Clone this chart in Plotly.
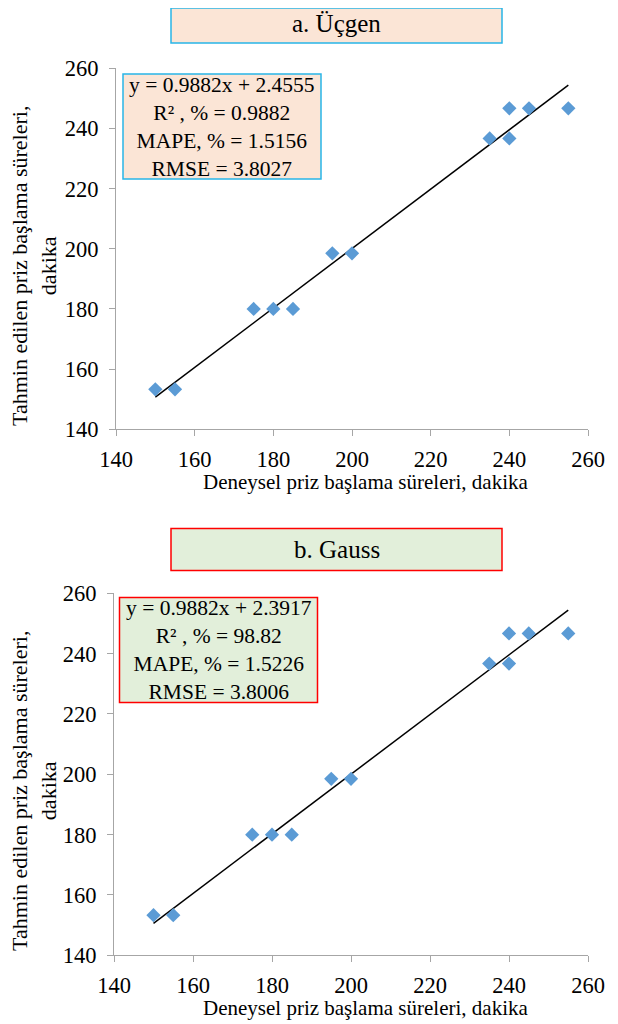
import plotly.graph_objects as go

# page is 618x1024; the html body adds an 8px margin, so the figure is 610x1016
OFF = 8
W, H = 618 - OFF, 1024 - OFF

# data
exp_x = [150, 155, 175, 180, 185, 195, 200, 235, 240, 240, 245, 255]
pred_a = [153.3, 153.3, 180, 180, 180, 198.5, 198.5, 236.7, 236.7, 246.7, 246.7, 246.7]
pred_b = [153.3, 153.3, 180, 180, 180, 198.5, 198.5, 236.7, 236.7, 246.7, 246.7, 246.7]
trend_x = [150, 255]
trend_a = [150.7, 254.4]
trend_b = [150.6, 254.4]
tick_vals = [140, 160, 180, 200, 220, 240, 260]
titles = ["a. Üçgen", "b. Gauss"]
stats_a = ["y = 0.9882x + 2.4555", "R² , % = 0.9882", "MAPE, % = 1.5156", "RMSE = 3.8027"]
stats_b = ["y = 0.9882x + 2.3917", "R² , % = 98.82", "MAPE, % = 1.5226", "RMSE = 3.8006"]
x_title = "Deneysel priz başlama süreleri, dakika"
y_title = "Tahmin edilen priz başlama süreleri,<br>dakika"

FONT = "Liberation Serif"
MARK = "#5b9bd5"
AXC = "#a6a6a6"


def px(x):
    return (x - OFF) / W


def py(y):
    return 1 - (max(y, OFF) - OFF) / H


fig = go.Figure()

panels = [
    dict(pred=pred_a, trend=trend_a, xd=[116, 588], yd=[68.3, 429.3], ax="", title=titles[0],
         tbox=(171, 1.5, 502, 43), tfill="#fbe5d6", tline="#29b5e8",
         sbox=(123, 74, 321, 179), stats=stats_a, ty=24, yt=266),
    dict(pred=pred_b, trend=trend_b, xd=[114, 588], yd=[593.3, 955.3], ax="2", title=titles[1],
         tbox=(171, 528.5, 502, 570.5), tfill="#e2efda", tline="#ff0000",
         sbox=(119.5, 597.5, 317.5, 702.5), stats=stats_b, ty=549.5, yt=791),
]

shapes = []
annotations = []
for p in panels:
    ax = p["ax"]
    fig.add_trace(go.Scatter(x=trend_x, y=p["trend"], mode="lines",
                             line=dict(color="black", width=1.5),
                             xaxis="x" + ax, yaxis="y" + ax, showlegend=False))
    fig.add_trace(go.Scatter(x=exp_x, y=p["pred"], mode="markers",
                             marker=dict(symbol="diamond", size=11, color=MARK),
                             xaxis="x" + ax, yaxis="y" + ax, showlegend=False))
    axis_common = dict(range=[140, 260], tickvals=tick_vals, showgrid=False, zeroline=False,
                       showline=True, linecolor=AXC, linewidth=1, ticks="outside",
                       ticklen=6, tickcolor=AXC, automargin=False,
                       tickfont=dict(family=FONT, size=22.5, color="black"))
    fig.update_layout(**{
        "xaxis" + ax: dict(domain=[px(p["xd"][0]), px(p["xd"][1])], anchor="y" + ax,
                           ticklabelstandoff=4, **axis_common),
        "yaxis" + ax: dict(domain=[py(p["yd"][1]), py(p["yd"][0])], anchor="x" + ax,
                           ticklabelstandoff=6, **axis_common),
    })
    x0, y0, x1, y1 = p["tbox"]
    shapes.append(dict(type="rect", xref="paper", yref="paper", x0=px(x0), x1=px(x1),
                       y0=py(y1), y1=py(y0), fillcolor=p["tfill"],
                       line=dict(color=p["tline"], width=1.5), layer="below"))
    annotations.append(dict(xref="paper", yref="paper", x=px((x0 + x1) / 2), y=py(p["ty"]),
                            text=p["title"], showarrow=False, xanchor="center", yanchor="middle",
                            font=dict(family=FONT, size=25, color="black")))
    x0, y0, x1, y1 = p["sbox"]
    shapes.append(dict(type="rect", xref="paper", yref="paper", x0=px(x0), x1=px(x1),
                       y0=py(y1), y1=py(y0), fillcolor=p["tfill"],
                       line=dict(color=p["tline"], width=1.5), layer="below"))
    annotations.append(dict(xref="paper", yref="paper", x=px((x0 + x1) / 2), y=py((y0 + y1) / 2),
                            text="<br>".join(p["stats"]), showarrow=False, xanchor="center",
                            yanchor="middle", align="center",
                            font=dict(family=FONT, size=21.5, color="black")))
    # axis titles
    annotations.append(dict(xref="paper", yref="paper", x=px(365), y=py(p["yd"][1] + 53),
                            text=x_title, showarrow=False, xanchor="center", yanchor="middle",
                            font=dict(family=FONT, size=21, color="black")))
    annotations.append(dict(xref="paper", yref="paper", x=px(34), y=py(p["yt"]),
                            text=y_title, showarrow=False, xanchor="center", yanchor="middle",
                            textangle=-90, align="center",
                            font=dict(family=FONT, size=22, color="black")))

fig.update_layout(width=W, height=H, margin=dict(l=0, r=0, t=0, b=0, autoexpand=False),
                  paper_bgcolor="white", plot_bgcolor="white",
                  font=dict(family=FONT),
                  shapes=shapes, annotations=annotations, showlegend=False)

fig.write_html("out.html", config={"displayModeBar": False})
